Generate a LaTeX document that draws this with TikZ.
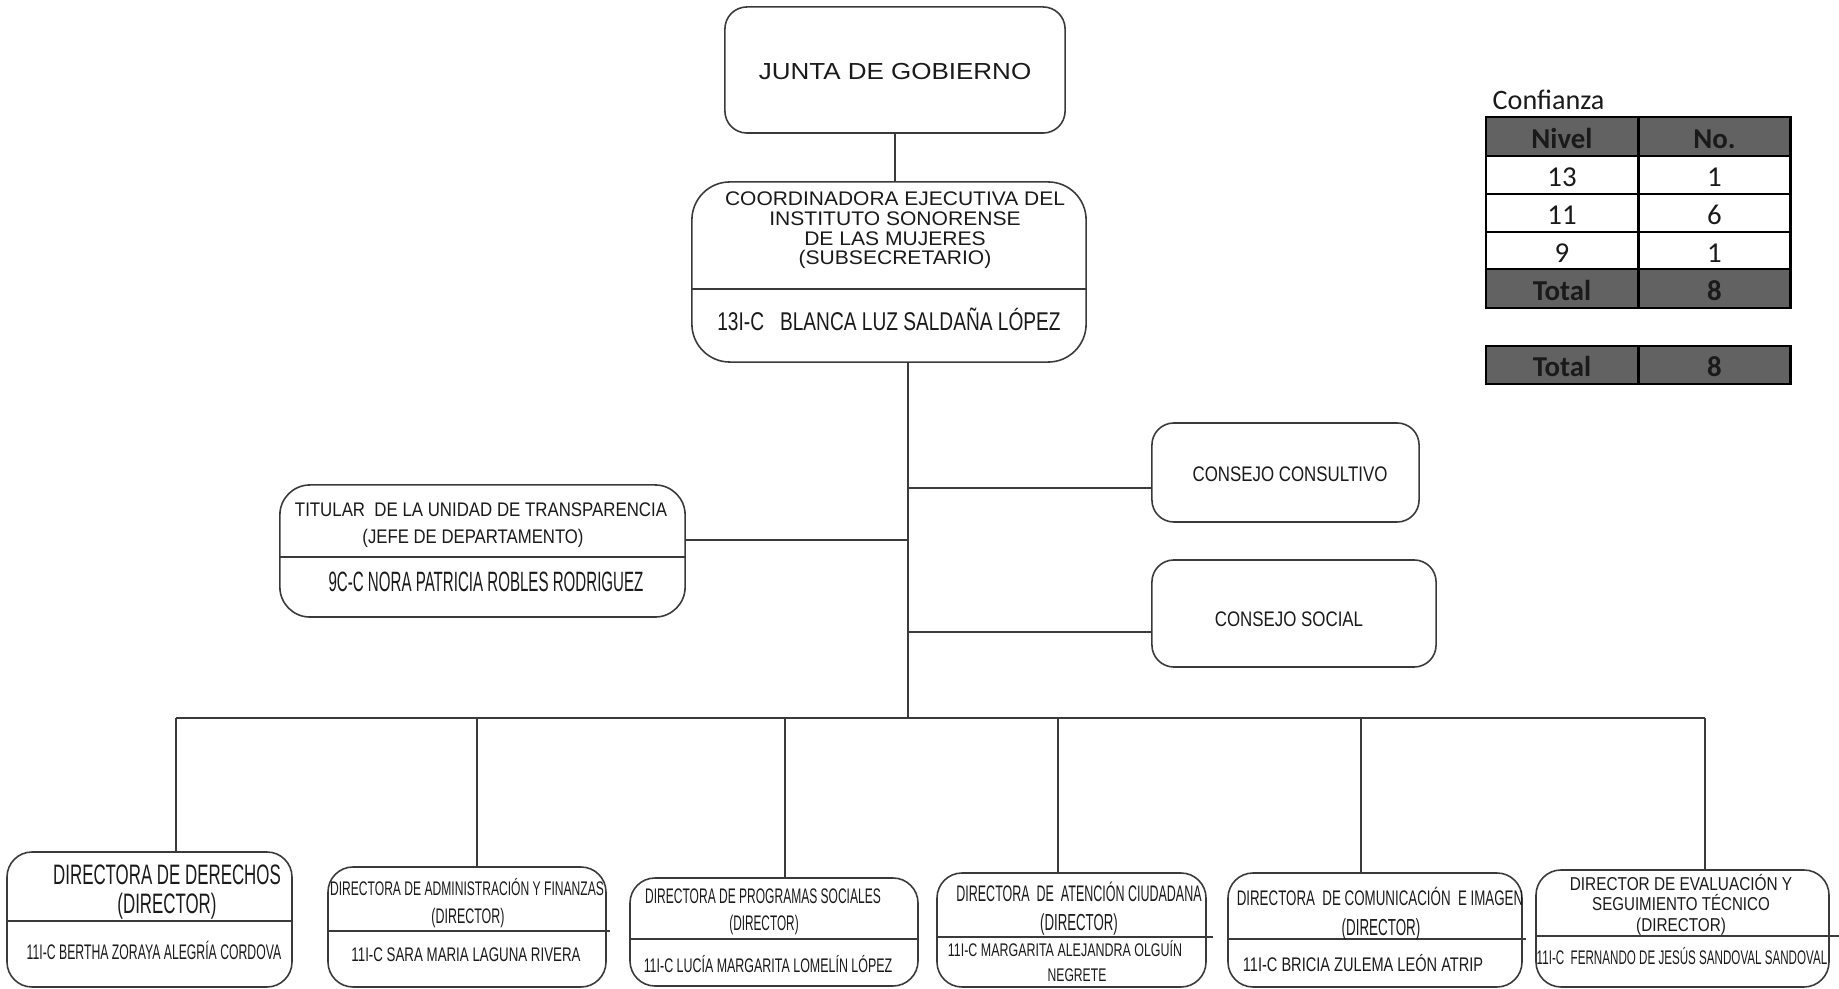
\documentclass[tikz,border=0pt]{standalone}
\usepackage{fontspec}
\setmainfont{Liberation Sans}
\newfontfamily\tabfont{Carlito}
%% condensed / widened Arial-like text: size, stretch
\newcommand\ff[2]{\expanded{\noexpand\fontspec{Liberation Sans}[FakeStretch=#2]}\fontsize{#1}{#1}\selectfont}
\definecolor{cellgray}{HTML}{626262}
\definecolor{linegray}{HTML}{3A3A3A}
\definecolor{textblack}{HTML}{1A1A1A}
\begin{document}
\begin{tikzpicture}[x=0.01cm,y=-0.01cm,
  boxdecorate/.style={draw=linegray,line width=0.45pt,inner sep=0pt,outer sep=0pt},
  linedecorate/.style={-,draw=linegray,line width=0.45pt},
  txtline/.style 2 args={inner sep=0pt,anchor=base,yshift={-0.358*(#1)*1pt},
    font={\ff{#1}{#2}},text=textblack},
  celldecorate/.style={draw=black,line width=0.7pt,inner sep=0pt,
    minimum width=1.52cm,text height=6.6pt,text depth=0pt,
    font={\tabfont\fontsize{8.2}{8.2}\selectfont},text=textblack}]
\useasboundingbox (0,0) rectangle (1839,989);
%% upper boxes
\node (junta) at (895,70) [boxdecorate,rounded corners=0.22cm,
  minimum width=3.4cm,minimum height=1.26cm] {};
\node (coord) at (889,272) [boxdecorate,rounded corners=0.38cm,
  minimum width=3.94cm,minimum height=1.8cm] {};
\node (titular) at (482.5,551) [boxdecorate,rounded corners=0.3cm,
  minimum width=4.05cm,minimum height=1.32cm] {};
\node (cconsult) at (1285.5,472.5) [boxdecorate,rounded corners=0.22cm,
  minimum width=2.67cm,minimum height=0.99cm] {};
\node (csocial) at (1294,613.5) [boxdecorate,rounded corners=0.22cm,
  minimum width=2.84cm,minimum height=1.07cm] {};
\draw[linedecorate] (692,289) -- (1086,289);
\draw[linedecorate] (280,557) -- (685,557);
%% lower boxes, dividers and drops
\foreach \nm/\xa/\xb/\ya/\yb/\xr/\yd/\xd in {derechos/7/292/852/987/292/921/176,
  admin/328/606/867/987/610/931/477, programas/630/918/878/986/918/939/785,
  atencion/937/1206/873/987/1213/937/1058, comunica/1228/1522/873/987/1526/939/1361,
  evalua/1536/1829/870/987/1839/936/1705} {
  \node (\nm) at ({(\xa+\xb)/2},{(\ya+\yb)/2}) [boxdecorate,rounded corners=0.25cm,
    minimum width={(\xb-\xa)*0.01cm},minimum height={(\yb-\ya)*0.01cm}] {};
  \draw[linedecorate] (\xa,\yd) -- (\xr,\yd);
  \coordinate (bus-\nm) at (\xd,718);
  \draw[linedecorate] (bus-\nm) -- (bus-\nm |- \nm.north);
}
%% connectors
\coordinate (trunk) at (908,718);
\coordinate (jcc) at (908,488);
\coordinate (jcs) at (908,632);
\coordinate (jtit) at (908,540);
\draw[linedecorate] (junta.south) -- (junta.south |- coord.north);
\draw[linedecorate] (trunk |- coord.south) -- (trunk);
\draw[linedecorate] (bus-derechos) -- (bus-evalua);
\draw[linedecorate] (jcc) -- (jcc -| cconsult.west);
\draw[linedecorate] (jcs) -- (jcs -| csocial.west);
\draw[linedecorate] (jtit) -- (jtit -| titular.east);
%% texts
\foreach \nm/\x/\y/\sz/\st/\txt in {tjunta/895/71/6.6/1.12/JUNTA DE GOBIERNO,
  tcoorda/895/198/5.6/1.065/COORDINADORA EJECUTIVA DEL,
  tcoordb/895/218/5.6/1.07/INSTITUTO SONORENSE,
  tcoordc/895/238/5.6/1.07/DE LAS MUJERES,
  tcoordd/895/257/5.6/1.07/(SUBSECRETARIO),
  tcoordp/889/321/7.3/0.745/13I-C\ \ \ BLANCA LUZ SALDAÑA LÓPEZ,
  ttita/481/509/5.6/0.855/TITULAR\ \ DE LA UNIDAD DE TRANSPARENCIA,
  ttitb/473/536/5.6/0.85/(JEFE DE DEPARTAMENTO),
  ttitp/486/582/7.95/0.54/9C-C NORA PATRICIA ROBLES RODRIGUEZ,
  tcc/1290/474/6/0.8/CONSEJO CONSULTIVO,
  tcs/1289/619/6/0.8/CONSEJO SOCIAL,
  tdera/167/874/8/0.6/DIRECTORA DE DERECHOS,
  tderb/167/903/8/0.6/(DIRECTOR),
  tderp/154/952/6/0.58/11I-C BERTHA ZORAYA ALEGRÍA CORDOVA,
  tadma/467/888/5.6/0.614/DIRECTORA DE ADMINISTRACIÓN Y FINANZAS,
  tadmb/468/916/6/0.59/(DIRECTOR),
  tadmp/466/954/5.6/0.676/11I-C SARA MARIA LAGUNA RIVERA,
  tproa/763/896/6/0.57/DIRECTORA DE PROGRAMAS SOCIALES,
  tprob/764/923/6/0.56/(DIRECTOR),
  tprop/768/965/5.6/0.632/11I-C LUCÍA MARGARITA LOMELÍN LÓPEZ,
  tatea/1079/893/6.4/0.555/DIRECTORA\ \ DE\ \ ATENCIÓN CIUDADANA,
  tateb/1079/922/6.6/0.57/(DIRECTOR),
  tatep/1065/950/5.2/0.681/11I-C MARGARITA ALEJANDRA OLGUÍN,
  tateq/1077/975/5.2/0.664/NEGRETE,
  tcoma/1380/898/6/0.632/DIRECTORA\ \ DE COMUNICACIÓN\ \ E IMAGEN,
  tcomb/1381/927/6.6/0.578/(DIRECTOR),
  tcomp/1363/964/5.6/0.741/11I-C BRICIA ZULEMA LEÓN ATRIP,
  tevaa/1681/884/5.3/0.825/DIRECTOR DE EVALUACIÓN Y,
  tevab/1681/904/5.3/0.81/SEGUIMIENTO TÉCNICO,
  tevac/1681/925/5.3/0.82/(DIRECTOR),
  tevap/1682/957/5.6/0.59/11I-C\ \ FERNANDO DE JESÚS SANDOVAL SANDOVAL} {
  \node (\nm) at (\x,\y) [txtline={\sz}{\st}] {\txt};
}
%% table
\node (conf) at (1492,110) [anchor=base west,inner sep=0pt,text=textblack,
  font={\tabfont\fontsize{8}{8}\selectfont}] {Confianza};
\foreach \rn/\ya/\yb/\cf/\ca/\cb/\fw in {hdr/117/156/cellgray/Nivel/No./\bfseries,
  rtre/156/194/white/13/1/\mdseries, ronce/194/232/white/11/6/\mdseries,
  rnueve/232/269/white/9/1/\mdseries, rtot/269/308/cellgray/Total/8/\bfseries,
  rtotb/346/384/cellgray/Total/8/\bfseries} {
  \node (\rn-a) at (1562,{(\ya+\yb)/2}) [celldecorate,fill=\cf,
    minimum height={(\yb-\ya)*0.01cm}] {\fw \ca};
  \node (\rn-b) at (1714.5,{(\ya+\yb)/2}) [celldecorate,fill=\cf,
    minimum height={(\yb-\ya)*0.01cm}] {\fw \cb};
}
\end{tikzpicture}
\end{document}
